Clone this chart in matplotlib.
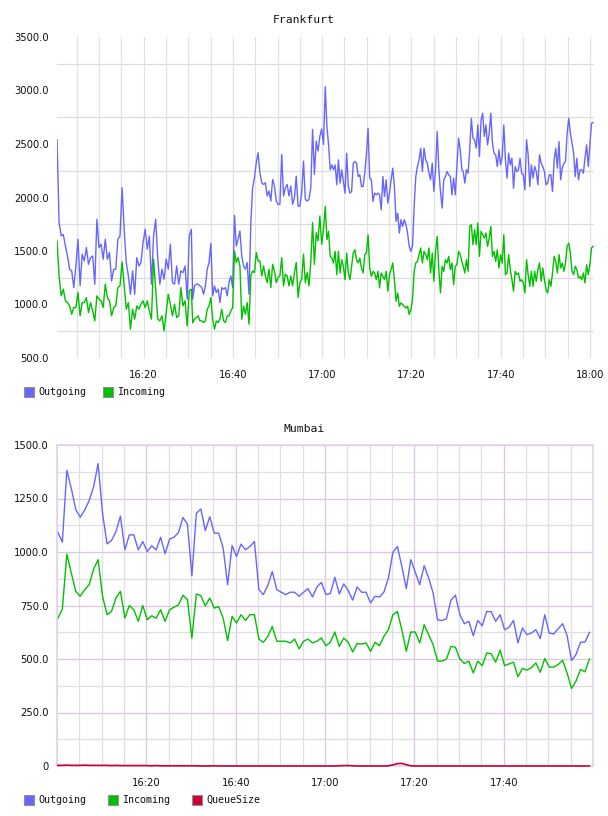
import numpy as np
import matplotlib.pyplot as plt
from matplotlib.patches import Rectangle
from matplotlib.ticker import MultipleLocator, FixedLocator, FuncFormatter

# Frankfurt: ~30 s samples, read in four time blocks (minutes after 16:00)
fra_blocks = [(0.6, 30.7), (31.0, 60.3), (60.7, 91.3), (91.6, 120.7)]

fra_out_a = [2540, 1765, 1640, 1655, 1547, 1454, 1330, 1314, 1158, 1360, 1610, 1174, 1470, 1407, 1532, 1376,
             1438, 1454, 1190, 1796, 1532, 1563, 1423, 1610, 1423, 1485, 1220, 1330, 1330, 1610, 1640, 2091,
             1703, 1392, 1267, 1096, 1314, 1096, 1438, 1360, 1392, 1578, 1703, 1516, 1640, 1190, 1640, 1796,
             1423, 1190, 1330, 1236, 1423, 1330, 1563, 1205, 1190, 1360, 1190, 1314, 1298, 1360, 1050, 1640, 1703]
fra_out_b = [1050, 1174, 1190, 1190, 1174, 1158, 1096, 1174, 1330, 1392, 1572, 1081, 1174, 1112, 1143, 1018,
             1158, 1143, 1158, 1081, 1205, 1267, 1158, 1833, 1547, 1610, 1687, 1454, 1360, 1330, 1392, 1096,
             1765, 2091, 2185, 2325, 2418, 2231, 2138, 2122, 2138, 2014, 2060, 1967, 2169, 2107, 1967, 1936,
             1936, 2402, 2014, 2091, 2122, 2014, 2107, 1936, 1998, 2200, 1920, 1920, 2045, 2340, 1983, 1967,
             1983, 2091, 2636, 2216, 2527, 2434, 2573, 2640, 2496]
fra_out_c = [3036, 2663, 2492, 2259, 2305, 2259, 2305, 2119, 2352, 2134, 2259, 2150, 2041, 2414, 2103, 2041,
             2057, 2321, 2336, 2321, 2196, 2212, 2103, 2103, 2228, 2399, 2647, 2181, 2165, 1963, 2041, 2025,
             2041, 2025, 1885, 2196, 2010, 2165, 1947, 2041, 2165, 2274, 2103, 1777, 1854, 1668, 1792, 1730,
             1792, 1746, 1668, 1543, 1497, 1543, 1916, 2196, 2290, 2352, 2461, 2243, 2461, 2352, 2321, 2228,
             2165, 2321, 2057, 2259, 2616, 2259, 2057, 1901, 2165, 2196, 2243, 2212, 2196, 2025, 2181, 2025,
             2290, 2554, 2445, 2259]
fra_out_d = [2243, 2134, 2259, 2227, 2445, 2740, 2554, 2539, 2461, 2678, 2383, 2725, 2787, 2570, 2678, 2492,
             2601, 2787, 2507, 2414, 2399, 2290, 2445, 2305, 2383, 2678, 2352, 2181, 2414, 2305, 2367, 2088,
             2290, 2243, 2259, 2367, 2227, 2212, 2072, 2539, 2399, 2103, 2305, 2181, 2290, 2243, 2119, 2399,
             2321, 2290, 2243, 2119, 2134, 2212, 2212, 2056, 2352, 2461, 2274, 2523, 2165, 2274, 2321, 2336,
             2601, 2740, 2601, 2507, 2414, 2196, 2367, 2165, 2259, 2259, 2227, 2367, 2492, 2290, 2492, 2694, 2700]

fra_in_a = [1594, 1267, 1081, 1143, 1034, 1018, 987, 909, 972, 972, 1112, 894, 1018, 1018, 1065, 925,
            1018, 940, 847, 1081, 1050, 1034, 972, 1190, 1065, 1034, 894, 972, 987, 1158, 1174, 1398,
            1174, 956, 1018, 769, 956, 863, 987, 956, 1003, 1034, 972, 1034, 940, 863, 1423, 1143,
            863, 847, 894, 754, 925, 1096, 1003, 894, 1003, 878, 894, 1158, 987, 1034, 800, 1127, 1143]
fra_in_b = [829, 863, 878, 894, 847, 847, 832, 847, 956, 987, 1065, 863, 769, 847, 832, 863,
            956, 847, 832, 894, 894, 940, 972, 1500, 1392, 1438, 1360, 863, 987, 909, 1018, 816,
            1267, 1314, 1298, 1485, 1407, 1407, 1267, 1360, 1267, 1205, 1330, 1158, 1376, 1314, 1205, 1252,
            1267, 1438, 1174, 1283, 1267, 1174, 1267, 1174, 1298, 1392, 1065, 1205, 1236, 1470, 1205, 1298,
            1174, 1392, 1765, 1376, 1671, 1594, 1827, 1563, 1703]
fra_in_c = [1917, 1606, 1683, 1450, 1434, 1388, 1497, 1279, 1497, 1295, 1419, 1357, 1232, 1481, 1295, 1232,
            1357, 1481, 1512, 1419, 1388, 1434, 1341, 1295, 1466, 1481, 1652, 1341, 1263, 1310, 1295, 1232,
            1310, 1155, 1295, 1263, 1232, 1310, 1124, 1279, 1326, 1388, 1232, 1030, 1108, 984, 1015, 999,
            984, 968, 984, 906, 953, 1046, 1310, 1388, 1403, 1466, 1528, 1388, 1497, 1466, 1419, 1528,
            1295, 1481, 1217, 1497, 1637, 1326, 1108, 1357, 1310, 1419, 1388, 1450, 1326, 1388, 1186, 1357,
            1372, 1497, 1466, 1403]
fra_in_d = [1357, 1295, 1419, 1310, 1730, 1746, 1559, 1699, 1559, 1761, 1450, 1683, 1652, 1621, 1668, 1543,
            1621, 1730, 1450, 1497, 1403, 1512, 1341, 1466, 1388, 1652, 1279, 1295, 1466, 1326, 1232, 1124,
            1310, 1279, 1295, 1217, 1232, 1201, 1108, 1419, 1279, 1170, 1310, 1170, 1310, 1217, 1326, 1388,
            1217, 1341, 1232, 1139, 1108, 1232, 1170, 1295, 1450, 1403, 1295, 1466, 1341, 1388, 1310, 1388,
            1543, 1574, 1481, 1310, 1279, 1357, 1326, 1248, 1263, 1232, 1295, 1201, 1372, 1279, 1372, 1528, 1543]

# Mumbai: 1 min samples starting 16:00
MUM_START = 0.2
mum_outgoing = [1092, 1046, 1382, 1297, 1199, 1162, 1196, 1240, 1305, 1413, 1181, 1038, 1054, 1095, 1168, 1010,
                1080, 1080, 1010, 1049, 1002, 1029, 1010, 1069, 992, 1060, 1069, 1091, 1161, 1131, 889, 1181,
                1201, 1100, 1165, 1088, 1088, 1018, 847, 1030, 979, 1037, 1010, 1026, 1049, 824, 801, 844,
                909, 824, 812, 801, 812, 812, 793,
                812, 829, 790, 837, 858, 801, 806, 882, 804, 851, 820, 775, 837, 812, 812, 762,
                793, 790, 813, 879, 998, 1026, 933, 829, 964, 906, 847, 936, 879, 809, 683, 680,
                688, 775, 798, 707, 665, 676, 609, 680, 655, 722, 721, 676, 707, 637, 648, 680,
                575, 645, 614, 621, 637, 595, 707, 621, 617, 641, 665, 609, 493, 521, 578, 579, 624]
mum_incoming = [691, 733, 990, 902, 816, 793, 824, 847, 920, 964, 793, 707, 722, 785, 816, 691,
                750, 730, 676, 750, 683, 702, 691, 730, 676, 730, 742, 753, 798, 778, 598, 804,
                796, 748, 785, 738, 745, 691, 586, 699, 668, 707, 680, 707, 707, 593, 578, 606,
                652, 583, 583, 583, 575, 593, 547,
                583, 593, 575, 583, 598, 562, 578, 626, 559, 598, 578, 533, 572, 570, 575, 536,
                578, 562, 606, 637, 707, 722, 637, 536, 626, 626, 575, 660, 614, 567, 490, 490,
                500, 559, 555, 500, 479, 490, 435, 490, 469, 528, 525, 485, 541, 469, 477, 485,
                417, 456, 448, 459, 482, 438, 502, 462, 462, 474, 494, 435, 362, 397, 451, 440, 500]
mum_queue = [3, 3, 4, 3, 3, 3, 4, 3, 3, 3, 3, 3, 2, 3, 2, 2, 2, 2, 2, 2,
             2, 1, 2, 1, 1, 1, 1, 1, 1, 1, 1, 1, 0, 0, 0, 1, 0, 0, 0, 0,
             0, 0, 0, 0, 0, 0, 0, 0, 0, 0, 0, 0, 0, 0, 0, 0, 0, 0, 0, 0,
             0, 0, 0, 1, 2, 2, 1, 0, 0, 0, 0, 0, 0, 0, 1, 5, 11, 12, 6, 1,
             0, 0, 0, 0, 0, 0, 0, 0, 0, 0, 0, 0, 0, 0, 0, 0, 0, 0, 0, 0,
             0, 0, 0, 0, 0, 0, 0, 0, 0, 0, 0, 0, 0, 0, 0, 0, 0, 0, 0, 0]

BLUE = '#6666ff'
GREEN = '#00c000'
RED = '#cc0033'
TICK_FONT = dict(family='DejaVu Sans', size=7.2)
MONO = 'DejaVu Sans Mono'

W, H = 608, 816
fig = plt.figure(figsize=(W / 100, H / 100), dpi=100)


def px_axes(l, t, r, b):
    return fig.add_axes([l / W, 1 - b / H, (r - l) / W, (b - t) / H])


def hhmm(v, pos):
    v = int(round(v))
    return "%d:%02d" % (16 + v // 60, v % 60)


def yfmt(v, pos):
    return "0" if v == 0 else "%.1f" % v


def style_ticks(ax):
    ax.tick_params(which='both', length=0, colors='#111111', labelsize=TICK_FONT['size'])
    ax.tick_params(axis='x', pad=9)
    ax.tick_params(axis='y', pad=6)
    for lab in ax.get_xticklabels() + ax.get_yticklabels():
        lab.set_family(TICK_FONT['family'])


def legend(y, items):
    for x, color, label in items:
        fig.add_artist(Rectangle((x / W, 1 - (y + 5) / H), 10 / W, 10 / H,
                                 facecolor=color, edgecolor='#909090', lw=0.8,
                                 transform=fig.transFigure))
        fig.text((x + 14) / W, 1 - y / H, label, family=MONO, fontsize=7.2,
                 va='center', ha='left', color='#111111')


# ---- Frankfurt
ax1 = px_axes(57, 37, 594, 358)
for blocks, color in [((fra_out_a, fra_out_b, fra_out_c, fra_out_d), BLUE),
                      ((fra_in_a, fra_in_b, fra_in_c, fra_in_d), GREEN)]:
    t = np.concatenate([np.linspace(s, e, len(v)) for (s, e), v in zip(fra_blocks, blocks)])
    ax1.plot(t, np.concatenate(blocks), color=color, lw=1.0)
ax1.set_xlim(0.6, 120.9)
ax1.set_ylim(500, 3500)
ax1.xaxis.set_major_locator(MultipleLocator(20))
ax1.xaxis.set_minor_locator(MultipleLocator(5))
ax1.xaxis.set_major_formatter(FuncFormatter(hhmm))
ax1.yaxis.set_major_locator(MultipleLocator(500))
ax1.yaxis.set_minor_locator(MultipleLocator(250))
ax1.yaxis.set_major_formatter(FuncFormatter(yfmt))
ax1.grid(which='both', axis='x', color='#e2e2e2', lw=0.9)
ax1.grid(which='minor', axis='y', color='#dcdcdc', lw=0.9)
ax1.set_axisbelow(True)
for s in ax1.spines.values():
    s.set_visible(False)
style_ticks(ax1)
fig.text(0.5, 1 - 20 / H, 'Frankfurt', family=MONO, fontsize=8.2, ha='center', va='center', color='#111111')
legend(392, [(24, BLUE, 'Outgoing'), (103, GREEN, 'Incoming')])

# ---- Mumbai
ax2 = px_axes(57, 445, 593, 766)
tm = MUM_START + np.arange(len(mum_outgoing))
ax2.plot(tm, mum_outgoing, color=BLUE, lw=1.0)
ax2.plot(tm, mum_incoming, color=GREEN, lw=1.0)
ax2.plot(tm, mum_queue, color=RED, lw=1.2, clip_on=False, zorder=5)
ax2.set_xlim(0, 120)
ax2.set_ylim(0, 1500)
ax2.xaxis.set_major_locator(FixedLocator([20, 40, 60, 80, 100]))
ax2.xaxis.set_minor_locator(MultipleLocator(5))
ax2.xaxis.set_major_formatter(FuncFormatter(hhmm))
ax2.yaxis.set_major_locator(MultipleLocator(250))
ax2.yaxis.set_minor_locator(MultipleLocator(125))
ax2.yaxis.set_major_formatter(FuncFormatter(yfmt))
ax2.grid(which='major', color='#dcc6e2', lw=0.9)
ax2.grid(which='minor', color='#e2dde4', lw=0.9)
ax2.set_axisbelow(True)
for s in ax2.spines.values():
    s.set_color('#e4d2ea')
    s.set_linewidth(1.2)
style_ticks(ax2)
fig.text(0.5, 1 - 429 / H, 'Mumbai', family=MONO, fontsize=8.2, ha='center', va='center', color='#111111')
legend(800, [(24, BLUE, 'Outgoing'), (108, GREEN, 'Incoming'), (192, RED, 'QueueSize')])

fig.savefig('out.png', dpi=100)
